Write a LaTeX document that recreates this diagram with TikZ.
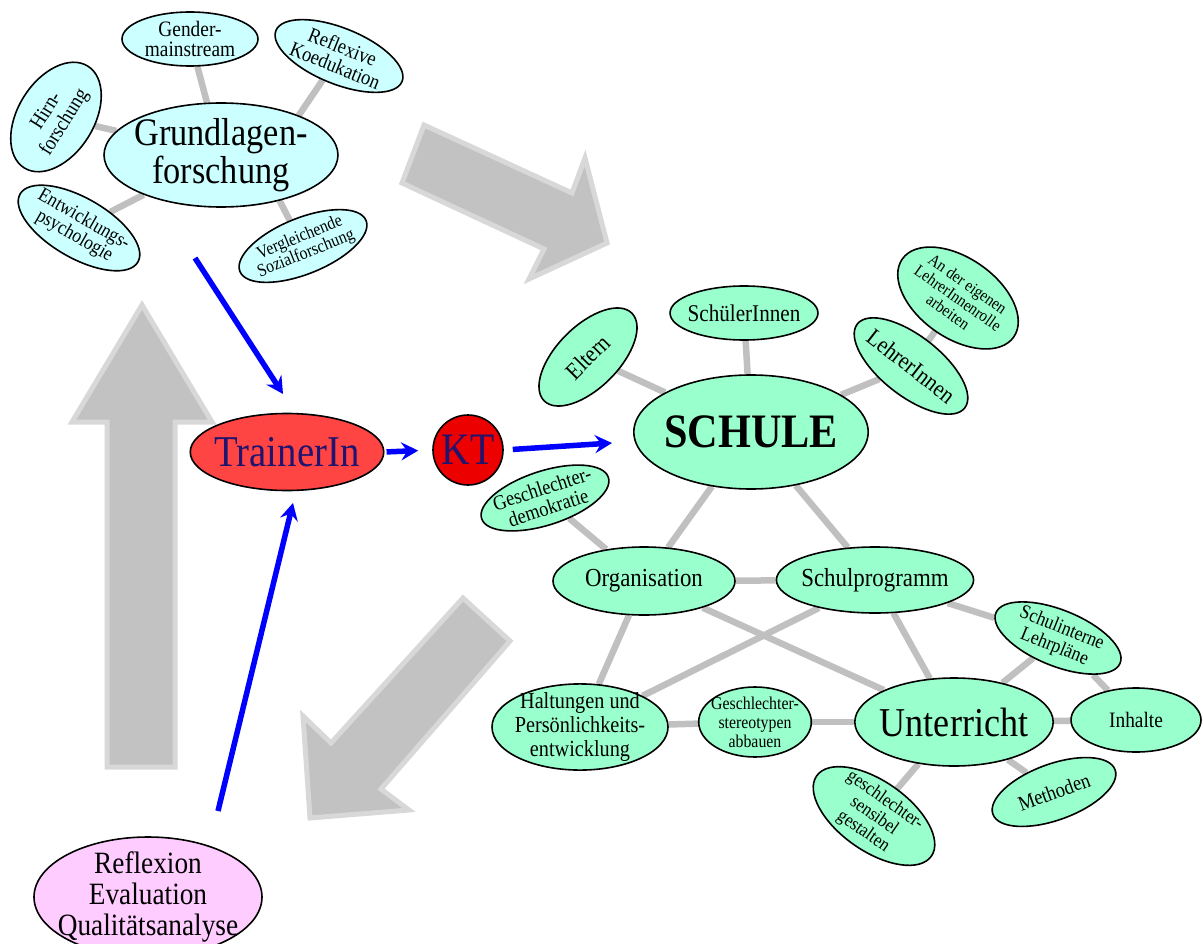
\documentclass[tikz,border=0pt]{standalone}
\usepackage{fontspec}
\setmainfont{Liberation Serif}[FakeStretch=0.88]
\usepackage{tikz}
\usetikzlibrary{shapes.geometric,arrows.meta,backgrounds}

\definecolor{grund}{RGB}{204,255,255}
\definecolor{schul}{RGB}{153,255,204}
\definecolor{refl}{RGB}{255,204,255}
\definecolor{trainer}{RGB}{255,68,68}
\definecolor{ktred}{RGB}{236,0,0}
\definecolor{navy}{RGB}{32,20,110}
\definecolor{linkgray}{RGB}{192,192,192}
\definecolor{flowgray}{RGB}{194,194,194}
\definecolor{flowrim}{RGB}{216,216,216}
\newcommand{\fsz}[2]{\fontsize{#1}{#2}\selectfont}

\begin{document}
\begin{tikzpicture}[x=1pt, y=-1pt,
  blob/.style={ellipse, draw=black, line width=1.6pt, inner sep=-4pt, align=center},
  grundblob/.style={blob, fill=grund},
  schulblob/.style={blob, fill=schul},
  link/.style={draw=linkgray, line width=6.5pt},
  flow/.style={fill=flowgray, draw=flowrim, line width=5pt, line join=miter},
  push/.style={draw=blue, line width=5.5pt, -{Stealth[length=17pt,width=18pt,inset=6pt]}}]

  \useasboundingbox (0,0) rectangle (1204,944);
  \clip (0,0) rectangle (1204,944);

  %% Grundlagenforschung und ihre Themen
  \node[grundblob, minimum width=228pt, minimum height=104pt, font=\fsz{39}{38}] (gf) at (221,155) {Grundlagen-\\forschung};
  \node[grundblob, minimum width=136pt, minimum height=54pt, font=\fsz{22}{20}] (gm) at (190,39) {Gender-\\mainstream};
  \node[grundblob, minimum width=136pt, minimum height=56pt, font=\fsz{21}{20}, rotate=-22] (rk) at (339,56) {Reflexive\\Koedukation};
  \node[grundblob, minimum width=120pt, minimum height=76pt, font=\fsz{21}{21}, rotate=58] (hf) at (56,117) {Hirn-\\forschung};
  \node[grundblob, minimum width=136pt, minimum height=60pt, font=\fsz{20}{19}, rotate=-30] (ep) at (79,228) {Entwicklungs-\\psychologie};
  \node[grundblob, minimum width=136pt, minimum height=56pt, font=\fsz{18}{17}, rotate=22] (vs) at (303,246) {Vergleichende\\Sozialforschung};

  %% Weg ueber die Fortbildung
  \node[blob, fill=trainer, text=navy, minimum width=180pt, minimum height=77pt, font=\fsz{44}{44}] (tr) at (287,452) {TrainerIn};
  \node[circle, draw=black, line width=1.6pt, fill=ktred, text=navy, inner sep=0pt, minimum size=70pt, font=\fsz{45}{45}] (kt) at (468,450) {KT};
  \node[blob, fill=refl, inner xsep=-12pt, inner ysep=-6pt, minimum width=228pt, minimum height=120pt, font=\fsz{31}{31}] (rq) at (148,897) {Reflexion\\Evaluation\\Qualitätsanalyse};

  %% Schule
  \node[schulblob, minimum width=228pt, minimum height=114pt, font=\fsz{48}{48}\bfseries] (sc) at (751,432) {SCHULE};
  \node[schulblob, minimum width=136pt, minimum height=54pt, font=\fsz{24}{24}] (su) at (744,313) {SchülerInnen};
  \node[schulblob, minimum width=124pt, minimum height=62pt, font=\fsz{24}{24}, rotate=45] (el) at (588,357) {Eltern};
  \node[schulblob, minimum width=136pt, minimum height=60pt, font=\fsz{24}{24}, rotate=-38] (li) at (911,366) {LehrerInnen};
  \node[schulblob, minimum width=136pt, minimum height=80pt, font=\fsz{17}{17}, rotate=-35] (ae) at (958,298) {An der eigenen\\LehrerInnenrolle\\arbeiten};
  \node[schulblob, minimum width=132pt, minimum height=54pt, font=\fsz{21}{20}, rotate=18] (gd) at (545,498) {Geschlechter-\\demokratie};
  \node[schulblob, minimum width=182pt, minimum height=68pt, font=\fsz{26}{26}] (og) at (644,581) {Organisation};
  \node[schulblob, minimum width=176pt, minimum height=66pt, font=\fsz{26}{26}] (sp) at (875,580) {Schulprogramm};
  \node[schulblob, minimum width=176pt, minimum height=80pt, font=\fsz{23}{24}] (hp) at (580,727) {Haltungen und\\Persönlichkeits-\\entwicklung};
  \node[schulblob, minimum width=110pt, minimum height=70pt, font=\fsz{18}{19}] (gs) at (755,722) {Geschlechter-\\stereotypen\\abbauen};
  \node[schulblob, minimum width=176pt, minimum height=88pt, font=\fsz{41}{41}] (ut) at (954,722) {Unterricht};
  \node[schulblob, minimum width=134pt, minimum height=56pt, font=\fsz{20}{20}, rotate=-22] (sl) at (1058,638) {Schulinterne\\Lehrpläne};
  \node[schulblob, minimum width=130pt, minimum height=64pt, font=\fsz{22}{22}] (ih) at (1136,720) {Inhalte};
  \node[schulblob, minimum width=130pt, minimum height=56pt, font=\fsz{21}{21}, rotate=20] (me) at (1054,792) {Methoden};
  \node[schulblob, minimum width=140pt, minimum height=70pt, font=\fsz{19}{19}, rotate=-35] (gg) at (874,816) {geschlechter-\\sensibel\\gestalten};

  \begin{scope}[on background layer]
    %% grosse graue Pfeile
    \draw[flow] (424,125) -- (572,193) -- (585,158) -- (607,243) -- (529,279) -- (544,249) -- (402,183) -- cycle;
    \draw[flow] (463,598) -- (331,743) -- (303,716) -- (310,818) -- (409,810) -- (381,789) -- (510,641) -- cycle;
    \draw[flow] (142,305) -- (212,422) -- (175,422) -- (175,767) -- (107,767) -- (107,422) -- (72,422) -- cycle;

    \draw[link] (gf) -- (gm);
    \draw[link] (gf.27) -- (rk);
    \draw[link] (gf) -- (hf);
    \draw[link] (gf) -- (ep);
    \draw[link] (gf.-38) -- (vs);

    \draw[link] (sc) -- (su);
    \draw[link] (sc) -- (el);
    \draw[link] (sc) -- (li);
    \draw[link] (li) -- (ae);
    \draw[link] (sc) -- (og);
    \draw[link] (sc) -- (sp);
    \draw[link] (gd) -- (og);
    \draw[link] (og) -- (sp);
    \draw[link] (og) -- (hp);
    \draw[link] (og) -- (ut);
    \draw[link] (sp) -- (hp);
    \draw[link] (sp) -- (ut);
    \draw[link] (sp) -- (sl);
    \draw[link] (hp) -- (gs);
    \draw[link] (gs) -- (ut);
    \draw[link] (ut) -- (sl);
    \draw[link] (sl) -- (ih);
    \draw[link] (ut) -- (ih);
    \draw[link] (ut) -- (me);
    \draw[link] (ut) -- (gg);
  \end{scope}

  %% blaue Pfeile
  \coordinate (fromgf) at (195,258);
  \coordinate (totr) at (283,394);
  \coordinate (fromrq) at (218,811);
  \coordinate (totrb) at (293,503);
  \coordinate (tosc) at (612,443);
  \draw[push] (fromgf) -- (totr);
  \draw[push] (fromrq) -- (totrb);
  \draw[push, shorten <=2pt, shorten >=14pt] (tr.east) -- (kt.west);
  \draw[push, shorten <=9pt] (kt.east) -- (tosc);
\end{tikzpicture}
\end{document}
